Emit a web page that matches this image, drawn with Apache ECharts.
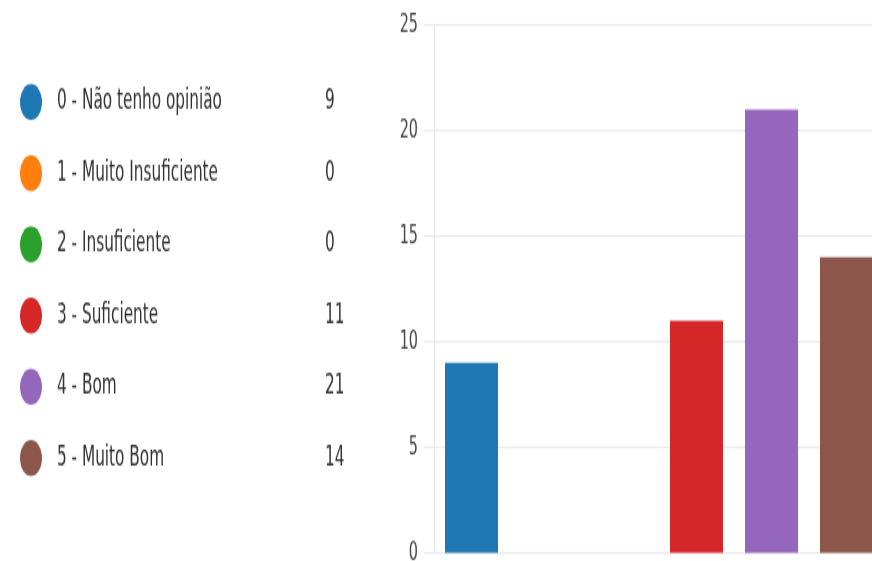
<!DOCTYPE html>
<html>
<head>
<meta charset="utf-8">
<script src="https://cdn.jsdelivr.net/npm/echarts@6/dist/echarts.min.js"></script>
<style>
html,body{margin:0;padding:0;background:#fff;overflow:hidden}
#wrap{width:872px;height:561px;overflow:hidden}
#c{width:872px;height:351px;transform:scaleY(1.6);transform-origin:0 0}
</style>
</head>
<body>
<div id="wrap"><div id="c"></div></div>
<script>
const categories = ['0 - Não tenho opinião', '1 - Muito Insuficiente', '2 - Insuficiente', '3 - Suficiente', '4 - Bom', '5 - Muito Bom'];
const values = [9, 0, 0, 11, 21, 14];
const colors = ['#1f77b4', '#ff7f0e', '#2ca02c', '#d62728', '#9467bd', '#8c564b'];
const yTicks = [0, 5, 10, 15, 20, 25];

const FONT = "'DejaVu Sans Condensed', 'Noto Sans', sans-serif";
const chart = echarts.init(document.getElementById('c'), null, {renderer: 'canvas'});
const series = categories.map((name, i) => ({
  name: name,
  type: 'bar',
  stack: 'all',
  barWidth: 53,
  itemStyle: {color: colors[i]},
  data: categories.map((c, j) => (j === i ? values[i] : '-'))
}));
chart.setOption({
  animation: false,
  color: colors,
  grid: {left: 434, top: 15.6, width: 450, height: 330, containLabel: false, outerBoundsMode: 'none'},
  legend: {
    orient: 'vertical',
    left: 20,
    top: 52.6,
    padding: 0,
    itemWidth: 22,
    itemHeight: 22.5,
    itemGap: 22,
    symbolKeepAspect: false,
    icon: 'path://M50,0A50,50,0,1,1,50,100A50,50,0,1,1,50,0Z',
    selectedMode: false,
    data: categories,
    formatter: function (name) {
      const i = categories.indexOf(name);
      return '{n|' + name + '}{v|' + values[i] + '}';
    },
    textStyle: {
      fontFamily: FONT,
      color: '#333',
      rich: {
        n: {fontFamily: FONT, fontSize: 17, color: '#333', width: 268, padding: [0, 0, 0, 10]},
        v: {fontFamily: FONT, fontSize: 17, color: '#333'}
      }
    }
  },
  xAxis: {
    type: 'category',
    data: categories,
    axisLine: {show: false},
    axisTick: {show: false},
    axisLabel: {show: false}
  },
  yAxis: {
    type: 'value',
    min: yTicks[0],
    max: yTicks[yTicks.length - 1],
    interval: 5,
    axisLine: {show: true, lineStyle: {color: '#e3e3e3', width: 1}},
    axisTick: {show: true, length: 10, lineStyle: {color: '#ebebeb', width: 1.25}},
    splitLine: {show: true, lineStyle: {color: '#ebebeb', width: 1.25}},
    axisLabel: {margin: 16, fontFamily: FONT, fontSize: 16, color: '#444'}
  },
  series: series
});
</script>
</body>
</html>
